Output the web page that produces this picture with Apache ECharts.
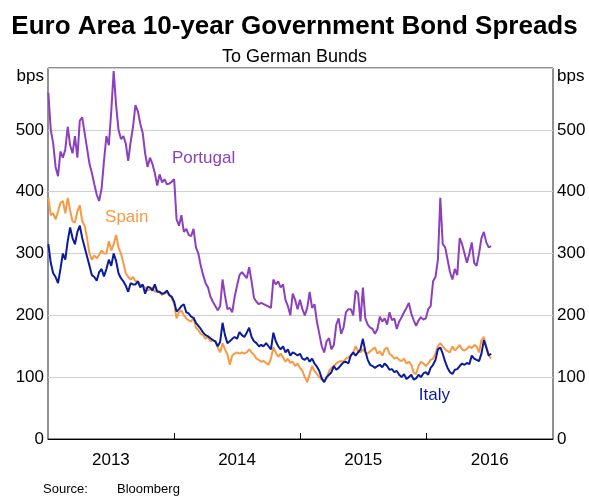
<!DOCTYPE html>
<html>
<head>
<meta charset="utf-8">
<script src="https://cdn.jsdelivr.net/npm/echarts@6/dist/echarts.min.js"></script>
<style>
html,body{margin:0;padding:0;background:#fff;}
#c{width:589px;height:496px;}
</style>
</head>
<body>
<div id="c"></div>
<script>
// Weekly observations, first week starting 2 Jan 2013 (bps spread to German Bunds)
var startDate = Date.UTC(2013, 0, 2);
var weekMs = 7 * 86400000;

var portugal = [
 560,500,478,440,425,465,455,468,505,475,462,490,455,515,520,495,470,445,430,412,395,385,405,450,490,475,530,595,540,500,485,490,478,450,480,505,540,530,510,495,462,440,455,445,430,410,
 428,415,420,412,413,416,420,355,345,362,335,340,330,328,340,310,300,280,265,252,245,230,222,215,208,215,258,232,210,212,205,230,248,265,270,265,260,278,255,228,222,218,220,218,216,214,
 212,258,250,255,245,250,225,215,200,235,225,210,225,210,200,212,238,212,218,190,170,150,140,158,163,145,152,185,195,170,180,205,210,210,200,240,235,190,245,195,185,180,178,170,
 178,198,190,195,185,205,192,195,178,190,197,205,212,220,203,192,183,192,197,193,195,210,215,255,262,290,390,315,310,290,270,258,275,265,325,315,300,285,300,318,285,280,300,325,335,318,310,312
];
var spain = [
 390,362,365,355,368,382,385,365,390,370,352,350,368,378,352,345,325,300,290,297,292,298,305,300,300,320,305,315,330,310,300,285,268,262,258,262,255,255,250,248,245,240,242,245,238,240,
 237,233,235,238,232,228,218,195,205,208,200,195,192,190,196,180,176,170,168,162,165,158,160,158,148,140,155,145,137,120,135,138,140,138,140,138,140,145,140,136,130,128,125,126,123,120,
 130,148,140,133,138,132,125,130,123,125,118,122,115,110,100,92,105,118,110,105,100,96,93,98,110,115,118,122,125,126,125,130,132,135,140,150,142,140,145,140,138,142,145,148,
 138,142,135,145,148,138,135,130,132,128,126,130,122,125,120,107,105,118,125,122,118,122,128,130,138,150,155,150,145,142,140,150,143,147,152,145,143,146,150,147,152,150,140,160,165,150,135,130
];
var italy = [
 315,285,268,262,252,275,300,290,320,342,325,315,335,345,325,310,295,280,265,262,256,270,275,263,275,290,280,300,288,268,260,255,248,238,252,250,250,255,245,250,235,246,245,240,250,238,
 238,235,236,240,233,230,222,206,210,215,218,205,203,198,196,188,183,178,172,168,166,163,160,158,150,157,188,168,155,158,162,165,162,173,168,165,172,180,165,158,155,150,152,150,155,150,
 145,172,158,150,145,150,140,145,135,140,138,135,138,130,128,132,125,130,122,117,110,98,92,100,104,108,118,112,115,120,124,125,122,135,140,135,140,145,162,142,128,120,118,115,
 118,120,116,122,118,112,113,108,110,104,100,105,97,100,104,96,98,104,100,106,108,104,115,120,128,145,148,138,125,115,108,105,112,113,118,122,120,123,121,135,130,128,126,138,160,148,135,138
];
var yearTicks = [2014, 2015, 2016];
var yearLabels = [2013, 2014, 2015, 2016];

function toSeries(vals) {
  return vals.map(function (v, i) { return [startDate + i * weekMs, v]; });
}

var FONT = 'Liberation Sans, Arial, sans-serif';
var C_PT = '#8C3FBE', C_ES = '#F89A43', C_IT = '#0A1C9C';

var chart = echarts.init(document.getElementById('c'), null, {renderer: 'canvas'});

function yLabel(v) { return v === 600 ? '{u|bps}' : String(v); }
var yLabelRich = { u: { fontSize: 17, fontFamily: FONT, color: '#000', padding: [16, 0, 0, 0] } };

var option = {
  animation: false,
  backgroundColor: '#fff',
  title: [
    { text: 'Euro Area 10-year Government Bond Spreads', left: 'center', top: 9,
      textStyle: { fontFamily: FONT, fontSize: 26, fontWeight: 'bold', color: '#000' } },
    { text: 'To German Bunds', left: 'center', top: 43,
      textStyle: { fontFamily: FONT, fontSize: 18, fontWeight: 'normal', color: '#000' } }
  ],
  grid: { left: 48, right: 36, top: 68, bottom: 57, show: true, borderColor: '#222', borderWidth: 1, containLabel: false },
  xAxis: {
    type: 'value',
    min: Date.UTC(2013, 0, 1),
    max: Date.UTC(2017, 0, 1),
    axisLine: { show: true, lineStyle: { color: '#000', width: 1 } },
    axisTick: { show: true, inside: true, length: 6, lineStyle: { color: '#000' },
      customValues: yearTicks.map(function (y) { return Date.UTC(y, 0, 1); }) },
    axisLabel: { show: true, margin: 13, fontFamily: FONT, fontSize: 17, color: '#000',
      customValues: yearLabels.map(function (y) { return Date.UTC(y, 6, 2); }),
      formatter: function (v) { return String(new Date(v).getUTCFullYear()); } },
    splitLine: { show: false }
  },
  yAxis: [
    { type: 'value', position: 'left', min: 0, max: 600, interval: 100,
      axisLine: { show: false }, axisTick: { show: false },
      axisLabel: { margin: 4, fontFamily: FONT, fontSize: 17, color: '#000', showMaxLabel: true, showMinLabel: true,
        formatter: yLabel, rich: yLabelRich },
      splitLine: { show: true, lineStyle: { color: '#cfcfcf', width: 1.2 } } },
    { type: 'value', position: 'right', min: 0, max: 600, interval: 100,
      axisLine: { show: false }, axisTick: { show: false },
      axisLabel: { margin: 4, fontFamily: FONT, fontSize: 17, color: '#000', showMaxLabel: true, showMinLabel: true,
        formatter: yLabel, rich: yLabelRich },
      splitLine: { show: false } }
  ],
  series: [
    { name: 'Portugal', type: 'line', data: toSeries(portugal), showSymbol: false, symbol: 'none',
      lineStyle: { color: C_PT, width: 2 }, z: 2,
      markPoint: { symbol: 'circle', symbolSize: 0, silent: true,
        data: [{ coord: [Date.UTC(2014, 2, 27), 454], label: { show: true, formatter: 'Portugal', color: C_PT, fontFamily: FONT, fontSize: 17, position: 'inside' } }] } },
    { name: 'Spain', type: 'line', data: toSeries(spain), showSymbol: false, symbol: 'none',
      lineStyle: { color: C_ES, width: 2 }, z: 3,
      markPoint: { symbol: 'circle', symbolSize: 0, silent: true,
        data: [{ coord: [Date.UTC(2013, 7, 17), 359], label: { show: true, formatter: 'Spain', color: C_ES, fontFamily: FONT, fontSize: 17, position: 'inside' } }] } },
    { name: 'Italy', type: 'line', data: toSeries(italy), showSymbol: false, symbol: 'none',
      lineStyle: { color: C_IT, width: 2 }, z: 4,
      markPoint: { symbol: 'circle', symbolSize: 0, silent: true,
        data: [{ coord: [Date.UTC(2016, 0, 24), 70], label: { show: true, formatter: 'Italy', color: C_IT, fontFamily: FONT, fontSize: 17, position: 'inside' } }] } }
  ],
  graphic: [
    { type: 'text', left: 43, top: 483, style: { text: 'Source:', fontFamily: FONT, fontSize: 13, fill: '#000' } },
    { type: 'text', left: 117, top: 483, style: { text: 'Bloomberg', fontFamily: FONT, fontSize: 13, fill: '#000' } }
  ]
};
chart.setOption(option);
</script>
</body>
</html>
